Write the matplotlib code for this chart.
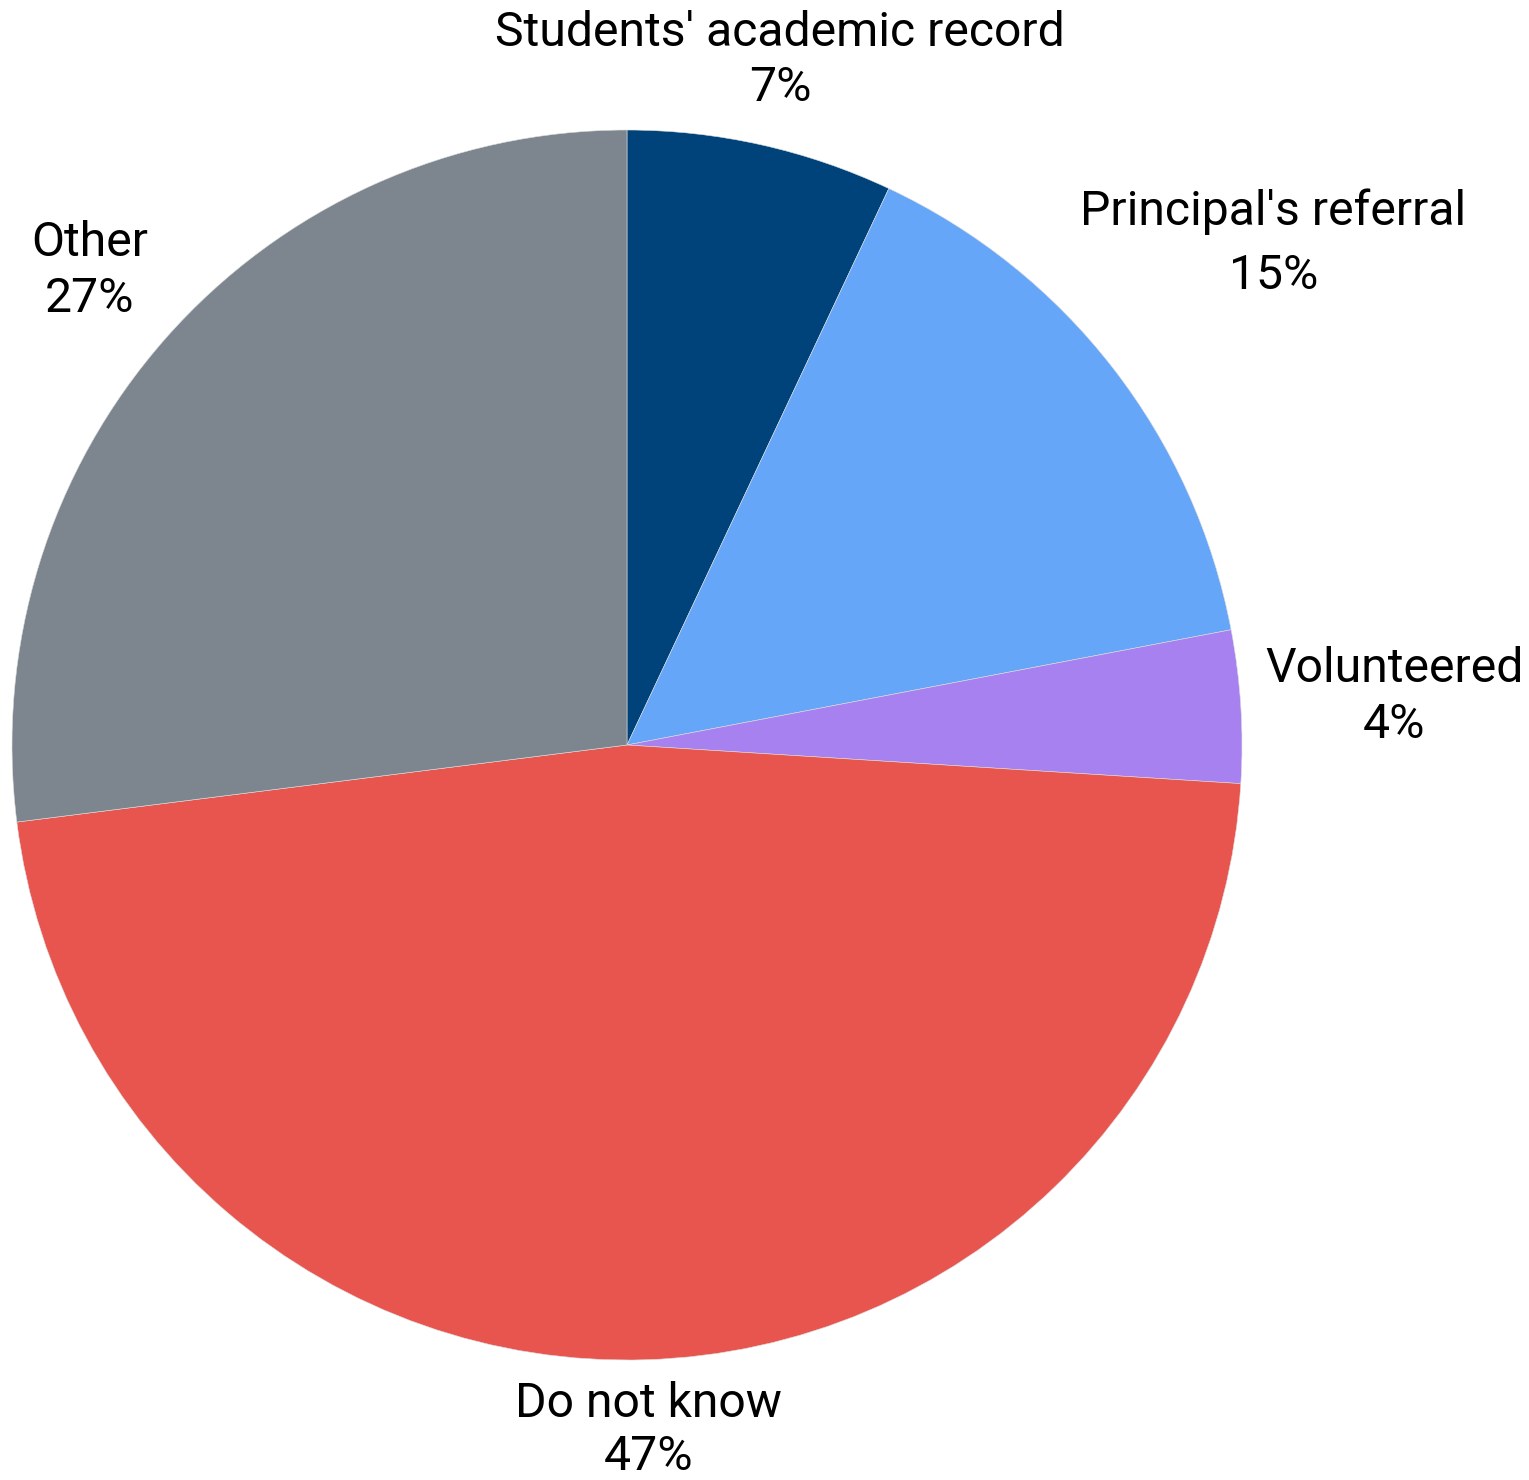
import numpy as np
import matplotlib.pyplot as plt

plt.rcParams['font.family'] = ['Roboto', 'DejaVu Sans']

# данные
labels = ["Students' academic record", "Principal's referral", "Volunteered", "Do not know", "Other"]
values = [7, 15, 4, 47, 27]
colors = ["#00437A", "#66A6F8", "#A781F0", "#E8554E", "#7D868F"]

# расстояние подписей от центра (в радиусах) и межстрочный интервал
label_dist = [1.14, 1.33, 1.25, 1.115, 1.165]
line_sp = [1.25, 1.5, 1.28, 1.2, 1.28]

W, H = 1529, 1480
cx, cy, R = 627, 745, 615

fig = plt.figure(figsize=(W / 100, H / 100), dpi=100)
ax = fig.add_axes([0, 0, 1, 1])

wedges, _ = ax.pie(values, colors=colors, startangle=90, counterclock=False,
                   radius=1, wedgeprops=dict(edgecolor="#dddddd", linewidth=0.4))

for w, lab, v, d, ls in zip(wedges, labels, values, label_dist, line_sp):
    ang = np.deg2rad((w.theta1 + w.theta2) / 2)
    ax.text(d * np.cos(ang), d * np.sin(ang), f"{lab}\n{v}%",
            ha="center", va="center", fontsize=34.7, linespacing=ls)

ax.set_xlim(-cx / R, (W - cx) / R)
ax.set_ylim(-(H - cy) / R, cy / R)
ax.set_aspect("equal")
ax.axis("off")

fig.savefig("out.png", dpi=100, facecolor="white")
